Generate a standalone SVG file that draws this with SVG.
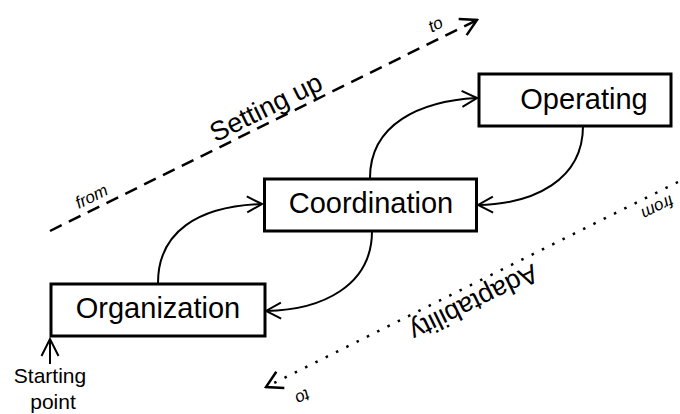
<svg xmlns="http://www.w3.org/2000/svg" width="680" height="414" viewBox="0 0 680 414">
  <style>
    .box { fill: #fff; stroke: #000; stroke-width: 3; }
    .label { font-family: "Liberation Sans", Arial, sans-serif; font-size: 29px; fill: #000; text-anchor: middle; }
    .edge { fill: none; stroke: #000; stroke-width: 2; marker-end: url(#open); }
    .phase { fill: none; stroke: #000; stroke-width: 2.5; marker-end: url(#openBig); }
    .dash { stroke-dasharray: 13 8; }
    .dot { stroke-dasharray: 2.5 9; }
    .tag { font-family: "Liberation Sans", Arial, sans-serif; font-size: 27px; fill: #000; text-anchor: middle; }
    .small { font-family: "Liberation Sans", Arial, sans-serif; font-size: 17px; font-style: italic; fill: #000; text-anchor: middle; }
    .note { font-family: "Liberation Sans", Arial, sans-serif; font-size: 21px; fill: #000; text-anchor: middle; }
  </style>
  <defs>
    <marker id="open" viewBox="-18 -10 20 20" markerWidth="20" markerHeight="20" refX="0" refY="0" orient="auto" markerUnits="userSpaceOnUse">
      <path d="M-15,-8 L0,0 L-15,8" fill="none" stroke="#000" stroke-width="2"/>
    </marker>
    <marker id="openBig" viewBox="-20 -12 22 24" markerWidth="22" markerHeight="24" refX="0" refY="0" orient="auto" markerUnits="userSpaceOnUse">
      <path d="M-16,-9 L0,0 L-16,9" fill="none" stroke="#000" stroke-width="2.5" stroke-dasharray="none"/>
    </marker>
    <marker id="start" viewBox="-20 -12 22 24" markerWidth="22" markerHeight="24" refX="0" refY="0" orient="auto" markerUnits="userSpaceOnUse">
      <path d="M-17,-8.5 L0,0 L-17,8.5" fill="none" stroke="#000" stroke-width="2"/>
    </marker>
  </defs>

  <!-- phase axes -->
  <g id="phases">
    <line class="phase dash" x1="50" y1="231" x2="477" y2="20"/>
    <text class="tag" transform="translate(270,115.5) rotate(-26.3)">Setting up</text>
    <text class="small" transform="translate(94,201.5) rotate(-26.3)">from</text>
    <text class="small" transform="translate(438,29.5) rotate(-26.3)">to</text>

    <line class="phase dot" x1="678" y1="182" x2="266" y2="387"/>
    <text class="tag" transform="translate(470,294.5) rotate(153.7)">Adaptability</text>
    <text class="small" transform="translate(655,202.5) rotate(153.7)">from</text>
    <text class="small" transform="translate(300,392) rotate(153.7)">to</text>
  </g>

  <!-- connectors between stages -->
  <g id="connectors">
    <path class="edge" d="M158,283 C158,232 198,206 262,204"/>
    <path class="edge" d="M370,178 C370,124 420,101 477,98"/>
    <path class="edge" d="M583,126 C583,180 534,204 478,205"/>
    <path class="edge" d="M372,231 C372,286 322,310 266,311"/>
    <line x1="50" y1="364" x2="50" y2="339" fill="none" stroke="#000" stroke-width="2" marker-end="url(#start)"/>
  </g>

  <g id="organization">
    <rect class="box" x="51" y="284" width="214" height="52"/>
    <text class="label" x="158" y="318">Organization</text>
  </g>

  <g id="coordination">
    <rect class="box" x="264.5" y="179" width="212" height="52"/>
    <text class="label" x="371" y="213">Coordination</text>
  </g>

  <g id="operating">
    <rect class="box" x="479" y="74" width="192" height="52"/>
    <text class="label" x="584" y="109">Operating</text>
  </g>

  <g id="start-point">
    <text class="note" x="50" y="383">Starting</text>
    <text class="note" x="53" y="409">point</text>
  </g>
</svg>
